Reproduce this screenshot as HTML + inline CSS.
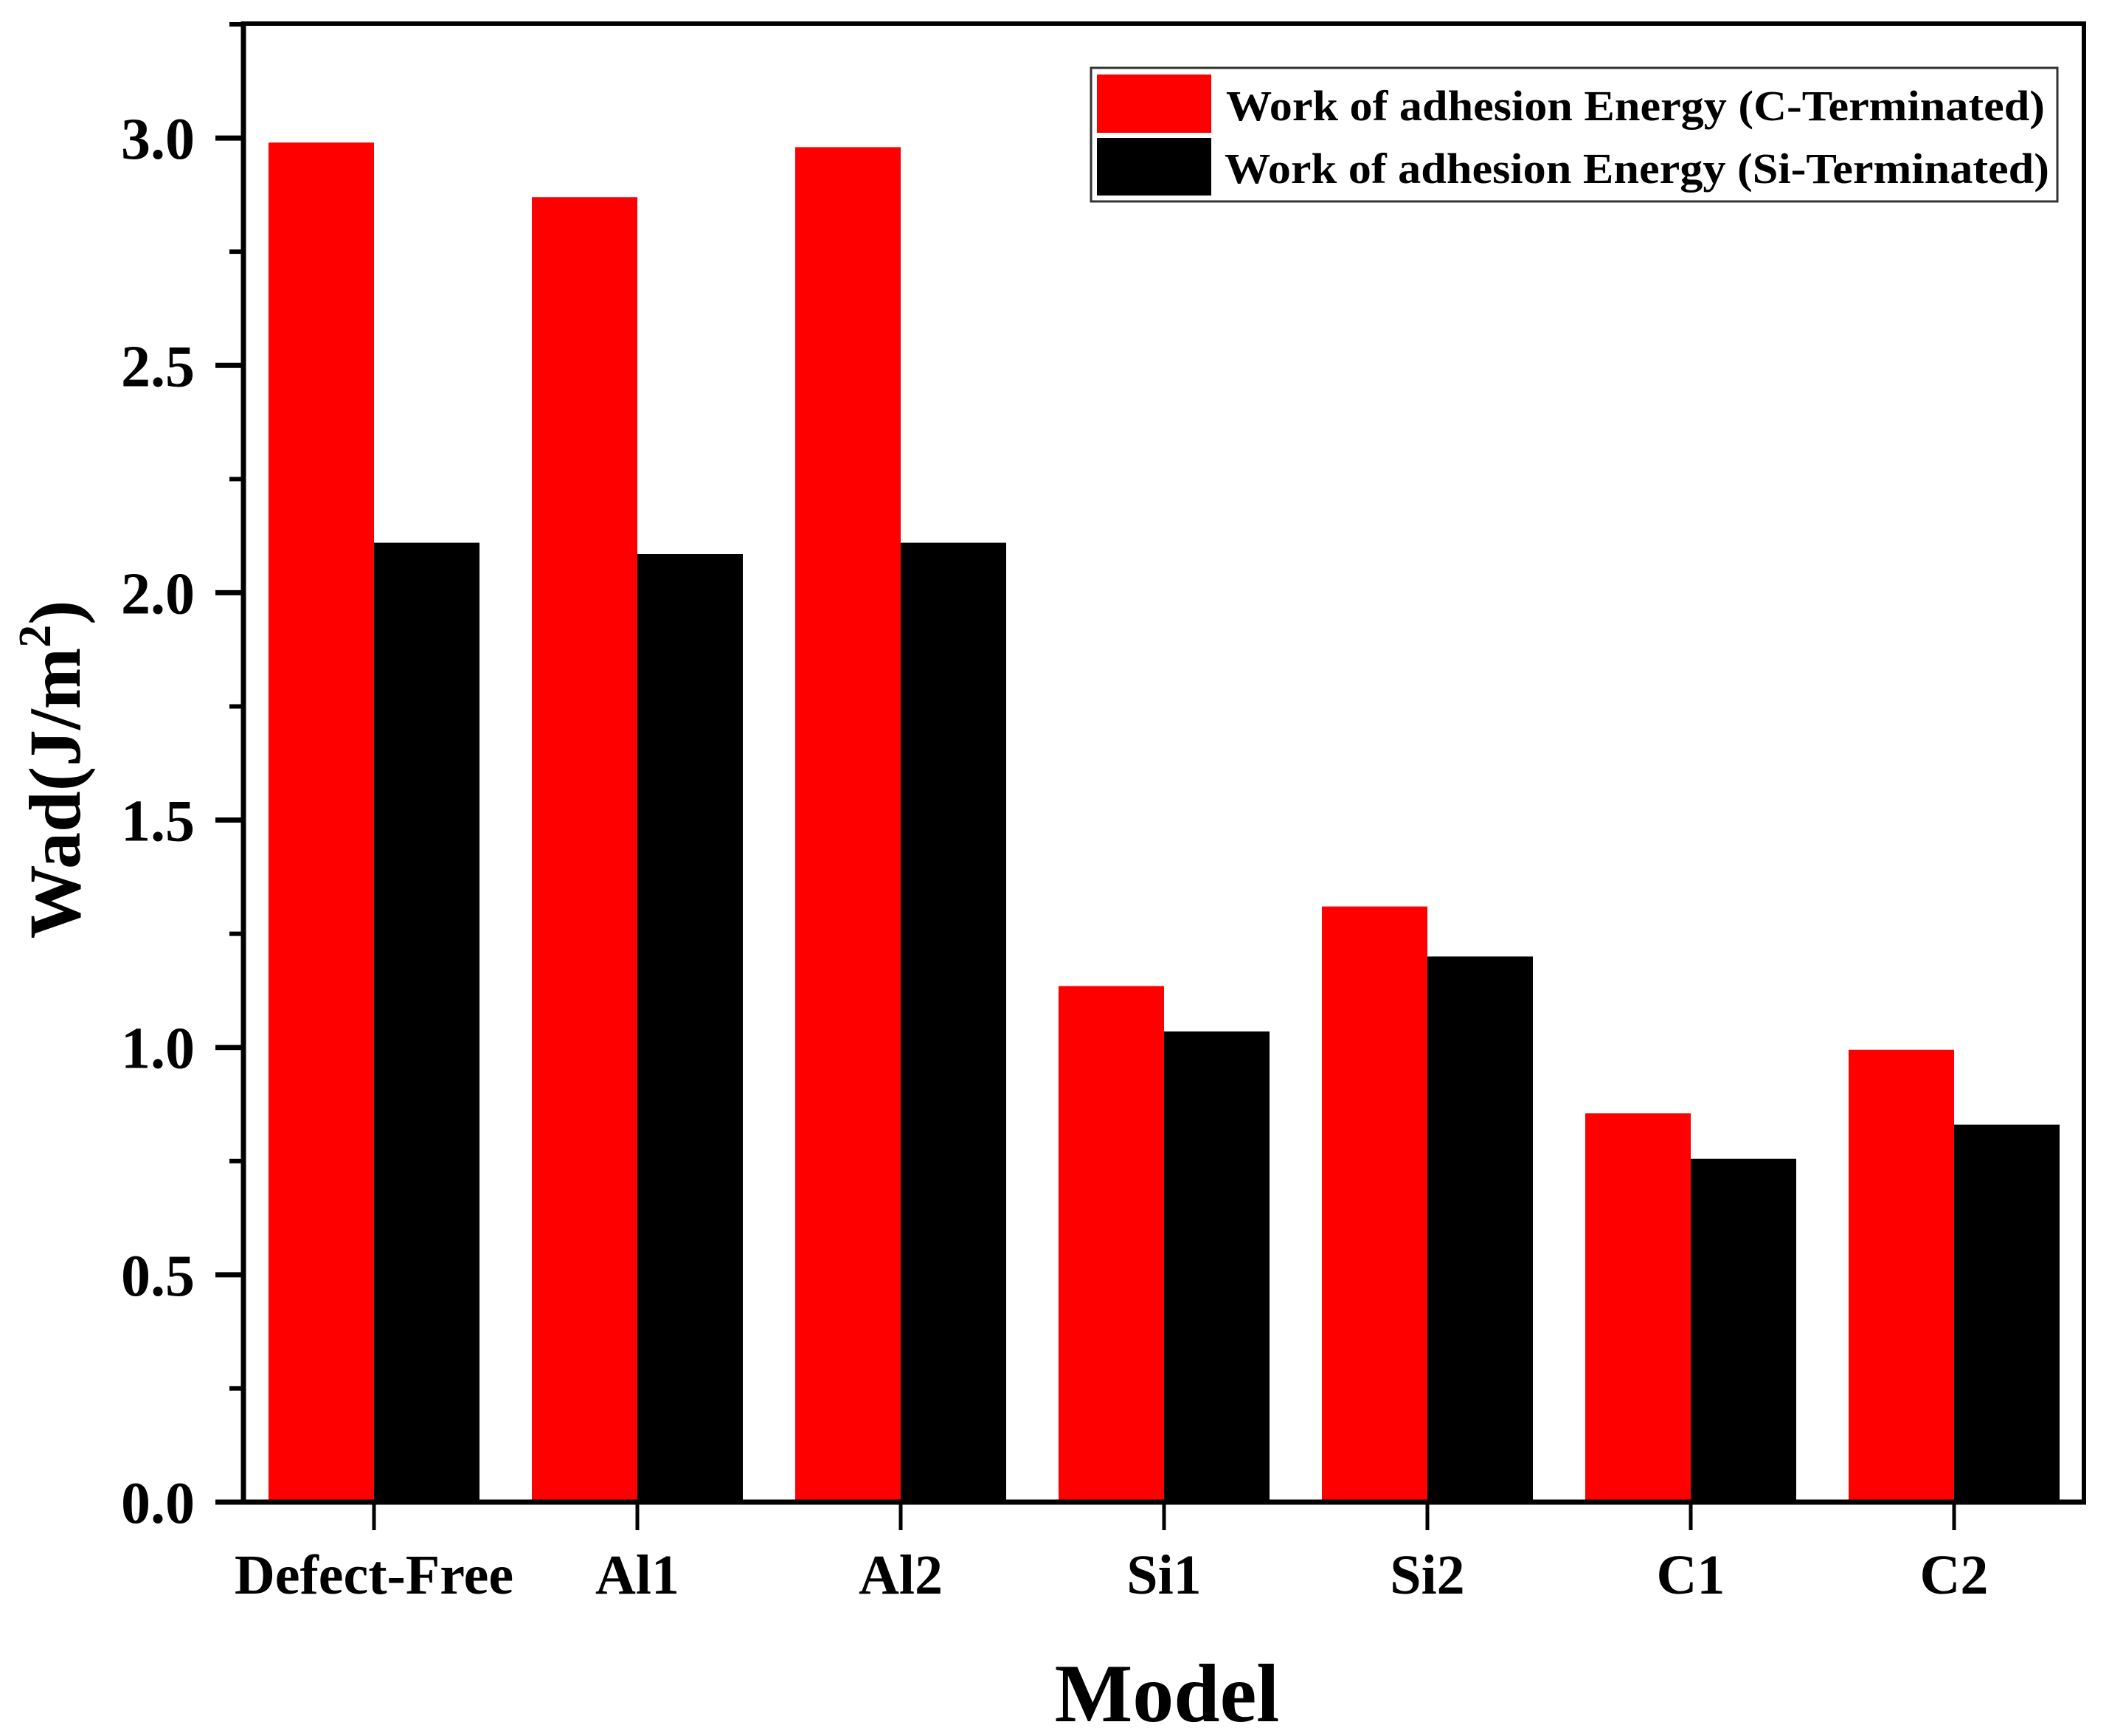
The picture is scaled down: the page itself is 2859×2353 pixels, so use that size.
<!DOCTYPE html>
<html><head><meta charset="utf-8"><style>
html,body{margin:0;padding:0;background:#fff;}
svg{display:block;font-family:"Liberation Serif",serif;font-weight:bold;}
</style></head><body>
<svg id="chart" width="2859" height="2353" viewBox="0 0 2859 2353" xmlns="http://www.w3.org/2000/svg">
<g id="bars"></g>
<g id="axes"></g>
<g>
<rect x="1479" y="92" width="1310" height="181" fill="#fff" stroke="#333" stroke-width="3"/>
<rect x="1487" y="101" width="155" height="79" fill="#ff0000"/>
<rect x="1487" y="187" width="155" height="78" fill="#000"/>
<text x="1662" y="163" font-size="58" textLength="1110" lengthAdjust="spacingAndGlyphs">Work of adhesion Energy (C-Terminated)</text>
<text x="1660" y="248" font-size="58" textLength="1118" lengthAdjust="spacingAndGlyphs">Work of adhesion Energy (Si-Terminated)</text>
</g>
<text x="1582" y="2333" font-size="112" text-anchor="middle">Model</text>
<text transform="translate(108,1043) rotate(-90)" font-size="100" text-anchor="middle">Wad(J/m<tspan font-size="62" dy="-40">2</tspan><tspan dy="40">)</tspan></text>
</svg>
<script>
const categories = ["Defect-Free","Al1","Al2","Si1","Si2","C1","C2"];
const cTerminated = [2.99,2.87,2.98,1.135,1.31,0.855,0.995];
const siTerminated = [2.11,2.085,2.11,1.035,1.2,0.755,0.83];
const yTicks = ["0.0","0.5","1.0","1.5","2.0","2.5","3.0"];
const NS="http://www.w3.org/2000/svg";
const x0=330,x1=2825,yTop=32,yBase=2036,unit=616.3;
const y=v=>yBase-v*unit;
const xc=i=>507+i*357;
const bw=143;
const bars=document.getElementById('bars'),axes=document.getElementById('axes');
function mk(tag,at,parent){const e=document.createElementNS(NS,tag);for(const k in at)e.setAttribute(k,at[k]);parent.appendChild(e);return e;}
categories.forEach((c,i)=>{
  const r=mk('rect',{x:xc(i)-bw,y:y(cTerminated[i]),width:bw,height:yBase-y(cTerminated[i]),fill:'#ff0000'},bars);
  
  
  const b=mk('rect',{x:xc(i),y:y(siTerminated[i]),width:bw,height:yBase-y(siTerminated[i]),fill:'#000'},bars);
  
  
  const t=mk('line',{x1:xc(i),x2:xc(i),y1:yBase,y2:yBase+38,stroke:'#000','stroke-width':5},axes);
  
  
  const l=mk('text',{x:xc(i),y:2160,'font-size':76,'text-anchor':'middle'},axes);
  l.textContent=c;
  
  
});
// frame
const fr=mk('path',{d:`M${x0} ${yTop}H${x1}V${yBase}`,fill:'none',stroke:'#000','stroke-width':6},axes);


const ya=mk('line',{x1:x0,x2:x0,y1:yTop-3,y2:yBase,stroke:'#000','stroke-width':7},axes);


const xa=mk('line',{x1:292,x2:x1+3,y1:yBase,y2:yBase,stroke:'#000','stroke-width':7},axes);


yTicks.forEach(s=>{
  const v=parseFloat(s);
  const t=mk('line',{x1:292,x2:x0,y1:y(v),y2:y(v),stroke:'#000','stroke-width':7},axes);
  
  
  const m=mk('line',{x1:311,x2:x0,y1:y(v+0.25),y2:y(v+0.25),stroke:'#000','stroke-width':6},axes);
  
  
  const l=mk('text',{x:264,y:y(v)+28,'font-size':80,'text-anchor':'end'},axes);
  l.textContent=s;
  
  
});
</script>
</body></html>
